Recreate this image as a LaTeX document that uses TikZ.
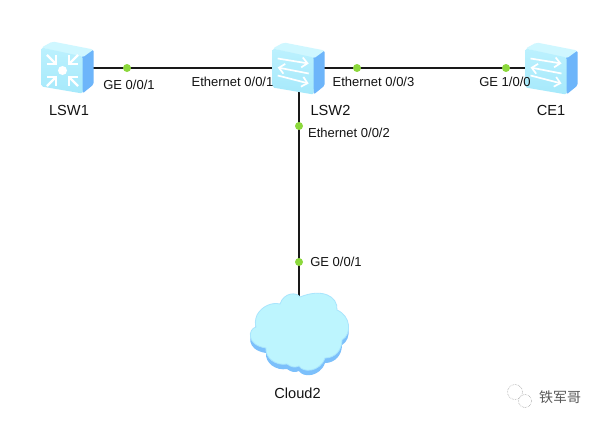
\documentclass[tikz,border=0pt]{standalone}
\usepackage{fontspec}
\setmainfont{Liberation Sans}
\newfontfamily\cjkfont{Noto Sans CJK SC}
\usetikzlibrary{calc,arrows.meta}
\definecolor{facecol}{HTML}{BCF1FE}
\definecolor{facecolb}{HTML}{A6E9FB}
\definecolor{topcol}{HTML}{CFF7FF}
\definecolor{sidecol}{HTML}{6DB5FA}
\definecolor{shadowcol}{HTML}{7CC0FB}
\definecolor{cloudcol}{HTML}{BDF5FE}
\definecolor{dotcol}{HTML}{8CD83C}
\newcommand{\cloudshape}{(256,327) .. controls (248,329) and (246,345) .. (266,348)
  .. controls (265,358) and (276,366) .. (287,364)
  .. controls (291,367) and (295,368) .. (299,366)
  .. controls (303,373) and (320,372) .. (325,358)
  .. controls (335,358) and (342,350) .. (342,340)
  .. controls (352,334) and (351,316) .. (337,310)
  .. controls (338,296) and (322,288) .. (300,297)
  .. controls (297,292) and (284,292) .. (280,304)
  .. controls (272,302) and (262,306) .. (257,315)
  .. controls (255,320) and (255,324) .. (256,327) -- cycle}
\tikzset{
  x=1pt,y=-1pt,
  anchorpt/.style={inner sep=0pt,minimum size=0pt,outer sep=0pt},
  link/.style={line width=2.4pt,draw=black!90},
  port/.style={circle,fill=dotcol,inner sep=0pt,minimum size=8pt,outer sep=0pt},
  lbl/.style={font=\fontsize{13}{15}\selectfont,inner sep=0pt,text=black!92},
  devname/.style={font=\fontsize{14.6}{16}\selectfont,inner sep=0pt,text=black!92},
  swarrow/.style={white,line width=1.7pt,-{Straight Barb[length=5.5pt,width=10pt]}},
  rtarrow/.style={white,line width=2.2pt,-{Straight Barb[length=6pt,width=12pt]}},
  devbody/.pic={
    \fill[sidecol,rounded corners=1.5pt] (19,-16) -- (31,-22) -- (31,13) -- (20,22) -- (19,10) -- cycle;
    \fill[topcol,rounded corners=2pt] (-21,-24) -- (-10,-30) -- (31,-22) -- (20,-14) -- cycle;
    \shade[top color=facecol,bottom color=facecolb,rounded corners=1.5pt] (-21,-24) -- (20,-15) -- (20,22) -- (-21,15) -- cycle;
  },
  switchpic/.pic={
    \pic {devbody};
    \draw[swarrow] (-16,-14) -- (15,-9);
    \draw[swarrow] (15,1) -- (-16,-5);
    \draw[swarrow] (-16,3) -- (15,11);
  },
  routerpic/.pic={
    \pic {devbody};
    \fill[white] (0,-1) circle (4.5pt);
    \foreach \a in {45,135,225,315}{
      \begin{scope}[shift={(0,-1)},rotate=\a]
        \draw[rtarrow] (22,0) -- (8,0);
      \end{scope}
    }
  },
}
\begin{document}
\begin{tikzpicture}
\useasboundingbox (0,0) rectangle (599,423);
\fill[white] (0,0) rectangle (599,423);
% anchors
\node[anchorpt] (lsw1) at (68,68) {};
\node[anchorpt] (lsw2) at (299,68) {};
\node[anchorpt] (ce1) at (552,68) {};
\node[anchorpt] (cloud) at (299,335) {};
% links
\draw[link] (lsw1) -- (lsw2);
\draw[link] (lsw2) -- (ce1);
\draw[link] (lsw2) -- (cloud);
% devices
\pic at ($(lsw1)+(-5.5,3.5)$) {routerpic};
\pic at ($(lsw2)+(-5.3,4.5)$) {switchpic};
\pic at ($(ce1)+(-5.5,4.5)$) {switchpic};
% cloud
\begin{scope}[shift={(0,5)}]
  \fill[shadowcol] \cloudshape;
\end{scope}
\path[fill=cloudcol,draw=cloudcol!70!shadowcol,line width=0.8pt] \cloudshape;
% ports
\node[port] (p1) at (127,68) {};
\node[port] (p2) at (357,68) {};
\node[port] (p3) at (506,68) {};
\node[port] (p4) at (299,126) {};
\node[port] (p5) at (299,262) {};
% labels
\node[lbl] (l1) at (129,85) {GE 0/0/1};
\node[lbl] (l2) at (232.5,82) {Ethernet 0/0/1};
\node[lbl] (l3) at (373.5,82) {Ethernet 0/0/3};
\node[lbl] (l4) at (505,82) {GE 1/0/0};
\node[lbl] (l5) at (349,133) {Ethernet 0/0/2};
\node[lbl] (l6) at (336,262) {GE 0/0/1};
\node[devname] (n1) at (69,110) {LSW1};
\node[devname] (n2) at (330.5,110) {LSW2};
\node[devname] (n3) at (551,110) {CE1};
\node[devname] (n4) at (297.5,393) {Cloud2};
% watermark
\draw[black!35,line width=0.6pt,densely dotted] (515,392) circle (7.5pt);
\draw[black!35,line width=0.6pt,fill=white,densely dotted] (525,401) circle (6.5pt);
\node[inner sep=0pt,text=black!65,font=\cjkfont\fontsize{14}{16}\selectfont] (wm) at (560,397) {铁军哥};
\end{tikzpicture}
\end{document}
